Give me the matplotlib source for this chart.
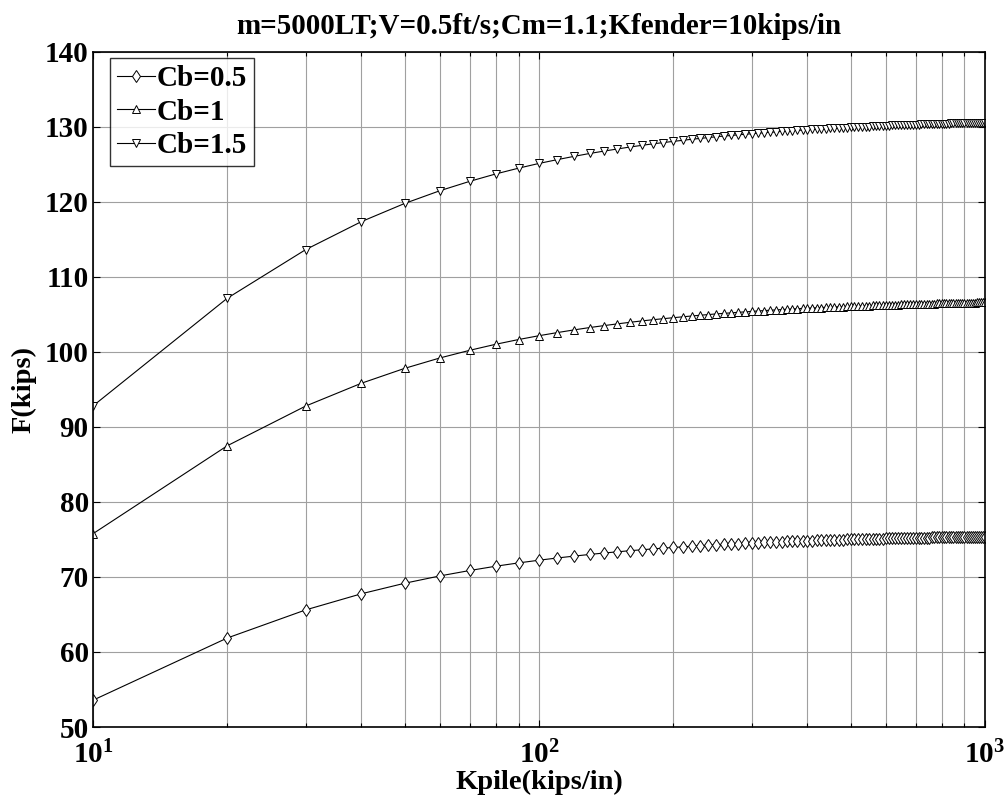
import numpy as np
import matplotlib
matplotlib.use("Agg")
import matplotlib.pyplot as plt
from matplotlib.ticker import LogLocator, NullFormatter

plt.rcParams['font.family'] = ['Liberation Serif', 'DejaVu Serif']
plt.rcParams['font.weight'] = 'bold'
plt.rcParams['mathtext.fontset'] = 'custom'
plt.rcParams['mathtext.rm'] = 'Liberation Serif:bold'
plt.rcParams['mathtext.bf'] = 'Liberation Serif:bold'

title = 'm=5000LT;V=0.5ft/s;Cm=1.1;Kfender=10kips/in'

# Kpile values, 10 to 1000 kips/in in steps of 10
kpile = list(range(10, 1001, 10))

f_cb05 = [
    53.57, 61.86, 65.61, 67.76, 69.16, 70.14, 70.86, 71.43, 71.87, 72.23,
    72.53, 72.78, 73.00, 73.19, 73.35, 73.50, 73.62, 73.74, 73.84, 73.93,
    74.01, 74.09, 74.16, 74.23, 74.29, 74.34, 74.39, 74.44, 74.48, 74.52,
    74.56, 74.60, 74.64, 74.66, 74.70, 74.73, 74.76, 74.78, 74.80, 74.83,
    74.85, 74.87, 74.89, 74.91, 74.93, 74.95, 74.96, 74.98, 75.00, 75.01,
    75.02, 75.04, 75.05, 75.06, 75.07, 75.09, 75.09, 75.11, 75.12, 75.13,
    75.14, 75.15, 75.16, 75.17, 75.18, 75.19, 75.19, 75.20, 75.21, 75.22,
    75.23, 75.24, 75.24, 75.25, 75.25, 75.26, 75.27, 75.27, 75.28, 75.29,
    75.29, 75.29, 75.30, 75.31, 75.31, 75.31, 75.32, 75.33, 75.33, 75.34,
    75.34, 75.34, 75.35, 75.36, 75.36, 75.36, 75.36, 75.37, 75.37, 75.38,
]

f_cb1 = [
    75.76, 87.48, 92.78, 95.82, 97.80, 99.19, 100.21, 101.01, 101.64, 102.15,
    102.57, 102.93, 103.24, 103.50, 103.73, 103.94, 104.12, 104.28, 104.42, 104.55,
    104.67, 104.78, 104.88, 104.97, 105.06, 105.13, 105.20, 105.27, 105.33, 105.39,
    105.45, 105.50, 105.55, 105.59, 105.64, 105.68, 105.72, 105.75, 105.79, 105.82,
    105.85, 105.88, 105.91, 105.94, 105.96, 105.99, 106.01, 106.03, 106.06, 106.08,
    106.10, 106.12, 106.14, 106.15, 106.17, 106.19, 106.20, 106.22, 106.24, 106.25,
    106.26, 106.28, 106.29, 106.30, 106.32, 106.33, 106.34, 106.35, 106.36, 106.37,
    106.39, 106.40, 106.41, 106.42, 106.42, 106.43, 106.44, 106.45, 106.46, 106.47,
    106.48, 106.48, 106.49, 106.50, 106.51, 106.51, 106.52, 106.53, 106.53, 106.54,
    106.55, 106.55, 106.56, 106.57, 106.57, 106.58, 106.58, 106.59, 106.59, 106.60,
]

f_cb15 = [
    92.79, 107.14, 113.63, 117.36, 119.78, 121.48, 122.73, 123.71, 124.48, 125.11,
    125.62, 126.06, 126.44, 126.76, 127.04, 127.30, 127.52, 127.72, 127.89, 128.05,
    128.19, 128.33, 128.45, 128.56, 128.67, 128.76, 128.84, 128.93, 129.00, 129.07,
    129.15, 129.21, 129.27, 129.32, 129.38, 129.43, 129.48, 129.52, 129.56, 129.60,
    129.64, 129.67, 129.71, 129.75, 129.77, 129.81, 129.83, 129.86, 129.89, 129.92,
    129.94, 129.97, 129.99, 130.00, 130.03, 130.05, 130.07, 130.09, 130.12, 130.13,
    130.14, 130.17, 130.18, 130.19, 130.21, 130.23, 130.24, 130.25, 130.27, 130.28,
    130.30, 130.31, 130.33, 130.34, 130.34, 130.35, 130.36, 130.38, 130.39, 130.40,
    130.41, 130.41, 130.42, 130.44, 130.45, 130.45, 130.46, 130.47, 130.47, 130.49,
    130.50, 130.50, 130.51, 130.52, 130.52, 130.53, 130.53, 130.55, 130.55, 130.56,
]

labels = ['Cb=0.5', 'Cb=1', 'Cb=1.5']
markers = ['d', '^', 'v']

fig = plt.figure(figsize=(10.06, 8.02), dpi=100)
ax = fig.add_axes([0.0924, 0.0935, 0.8866, 0.8420])

for ys, lab, mk in zip([f_cb05, f_cb1, f_cb15], labels, markers):
    ax.plot(kpile, ys, color='black', linewidth=0.8, marker=mk, markersize=6,
            markerfacecolor='white', markeredgecolor='black', markeredgewidth=0.7,
            label=lab)

ax.set_xscale('log')
ax.set_xlim(10, 1000)
ax.set_ylim(50, 140)
ax.set_yticks(np.arange(50, 141, 10))
ax.xaxis.set_major_locator(LogLocator(base=10))
ax.xaxis.set_minor_locator(LogLocator(base=10, subs=np.arange(2, 10)))
ax.xaxis.set_minor_formatter(NullFormatter())

ax.grid(True, which='major', color='#a0a0a0', linewidth=0.8)
ax.grid(True, which='minor', axis='x', color='#a0a0a0', linewidth=0.8)
ax.set_axisbelow(True)

ax.tick_params(axis='both', which='both', direction='in', top=True, right=True,
               labelsize=21, width=0.8)
ax.tick_params(which='major', length=5)
ax.tick_params(which='minor', length=3)
ax.tick_params(axis='x', which='major', pad=10)
ax.tick_params(axis='y', which='major', pad=3)
for sp in ax.spines.values():
    sp.set_linewidth(1.2)

ax.set_xlabel('Kpile(kips/in)', fontsize=20.5, fontweight='bold', labelpad=0)
ax.set_ylabel('F(kips)', fontsize=20.5, fontweight='bold', labelpad=6)
ax.set_title(title, fontsize=20.9, fontweight='bold', pad=13)

leg = ax.legend(loc='upper left', bbox_to_anchor=(0.019, 0.991), fontsize=21,
                frameon=True, fancybox=False, edgecolor='black',
                handlelength=1.3, handletextpad=0.05, borderpad=0.25,
                labelspacing=0.22, borderaxespad=0.0)
leg.get_frame().set_linewidth(1.0)

fig.savefig('out.png', dpi=100)
